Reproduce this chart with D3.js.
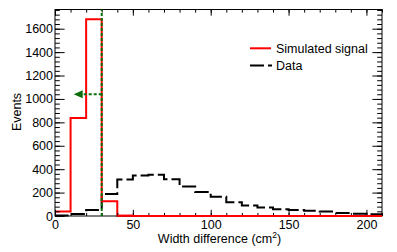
<!DOCTYPE html>
<html>
<head>
<meta charset="utf-8">
<script src="https://cdn.jsdelivr.net/npm/d3@7"></script>
<style>
  html, body { margin: 0; padding: 0; background: #fff; }
  svg { display: block; font-family: "Liberation Sans", Arial, sans-serif; }
</style>
</head>
<body>
<svg id="chart" width="397" height="252"></svg>
<script>
// ---- data ----
const binLow = [0,10,20,30,40,50,60,70,80,90,100,110,120,130,140,150,160,170,180,190,200];
const binWidth = 10;
const signalValues = [38,838,1680,125,2,0,0,0,0,0,0,0,0,0,0,0,0,0,0,0,0];
const dataValues = [4,18,52,188,312,345,352,315,252,206,165,118,90,72,58,52,44,38,26,20,16];
const xTicks = [0,50,100,150,200];
const yTicks = [0,200,400,600,800,1000,1200,1400,1600];
const legendLabels = ["Simulated signal", "Data"];
const cutValue = 30;
const arrowLevel = 1040;
const arrowTip = 12;
const xDomain = [0, 210];
const yDomain = [0, 1764];

// ---- layout ----
const svg = d3.select("#chart");
const L = 55, R = 382, T = 9.5, B = 216;
const x = d3.scaleLinear().domain(xDomain).range([L, R]);
const y = d3.scaleLinear().domain(yDomain).range([B, T]);
const fontSize = 12.5;

function histPoints(vals) {
  const pts = [[binLow[0], 0]];
  vals.forEach((v, i) => pts.push([binLow[i], v]));
  const last = binLow[binLow.length - 1] + binWidth;
  pts.push([last, vals[vals.length - 1]]);
  pts.push([last, 0]);
  return pts;
}
const line = d3.line().x(d => x(d[0])).y(d => y(d[1])).curve(d3.curveStepAfter);

// clip
svg.append("clipPath").attr("id", "clip").append("rect")
  .attr("x", L).attr("y", T - 1).attr("width", R - L).attr("height", B - T + 2);

const plot = svg.append("g").attr("clip-path", "url(#clip)");

// data histogram (black dashed)
plot.append("path").attr("d", line(histPoints(dataValues)))
  .attr("fill", "none").attr("stroke", "#000").attr("stroke-width", 2)
  .attr("stroke-dasharray", "14,4");

// signal histogram (red)
plot.append("path").attr("d", line(histPoints(signalValues)))
  .attr("fill", "none").attr("stroke", "#ff0000").attr("stroke-width", 2);

// ---- axes ----
const yMinor = d3.range(0, yDomain[1], 40);
const xMinor = d3.range(0, xDomain[1] + 0.1, 10);

function styleAxis(g) {
  g.select(".domain").remove();
  g.selectAll("line").attr("stroke", "#000").attr("stroke-width", 1);
  g.selectAll("text").attr("font-size", fontSize).attr("fill", "#000")
    .attr("font-family", "Liberation Sans, Arial, sans-serif");
}

// left
svg.append("g").attr("transform", `translate(${L},0)`)
  .call(d3.axisLeft(y).tickValues(yMinor).tickSize(-4.8).tickFormat(""))
  .call(styleAxis);
svg.append("g").attr("transform", `translate(${L},0)`)
  .call(d3.axisLeft(y).tickValues(yTicks).tickSize(-9.6).tickPadding(2).tickFormat(d3.format("d")))
  .call(styleAxis);
// right
svg.append("g").attr("transform", `translate(${R},0)`)
  .call(d3.axisRight(y).tickValues(yMinor).tickSize(-4.8).tickFormat(""))
  .call(styleAxis);
svg.append("g").attr("transform", `translate(${R},0)`)
  .call(d3.axisRight(y).tickValues(yTicks).tickSize(-9.6).tickFormat(""))
  .call(styleAxis);
// bottom
svg.append("g").attr("transform", `translate(0,${B})`)
  .call(d3.axisBottom(x).tickValues(xMinor).tickSize(-3.1).tickFormat(""))
  .call(styleAxis);
svg.append("g").attr("transform", `translate(0,${B})`)
  .call(d3.axisBottom(x).tickValues(xTicks).tickSize(-6.2).tickPadding(4).tickFormat(d3.format("d")))
  .call(styleAxis);
// top
svg.append("g").attr("transform", `translate(0,${T})`)
  .call(d3.axisTop(x).tickValues(xMinor).tickSize(-3.1).tickFormat(""))
  .call(styleAxis);
svg.append("g").attr("transform", `translate(0,${T})`)
  .call(d3.axisTop(x).tickValues(xTicks).tickSize(-6.2).tickFormat(""))
  .call(styleAxis);

// frame
svg.append("rect").attr("x", L).attr("y", T).attr("width", R - L).attr("height", B - T)
  .attr("fill", "none").attr("stroke", "#000").attr("stroke-width", 1);

// red zero line drawn over the frame bottom (signal bins at 0)
svg.append("path").attr("d", line(histPoints(signalValues).slice(5)))
  .attr("fill", "none").attr("stroke", "#ff0000").attr("stroke-width", 2);

// ---- cut line + arrow (green) ----
const green = "#0a6e0a";
svg.append("line")
  .attr("x1", x(cutValue)).attr("x2", x(cutValue))
  .attr("y1", y(0)).attr("y2", y(yDomain[1]))
  .attr("stroke", green).attr("stroke-width", 2).attr("stroke-dasharray", "3,2");
const headLen = 9, headHalf = 4;
svg.append("line")
  .attr("x1", x(cutValue)).attr("x2", x(arrowTip) + headLen)
  .attr("y1", y(arrowLevel)).attr("y2", y(arrowLevel))
  .attr("stroke", green).attr("stroke-width", 2).attr("stroke-dasharray", "3,2");
svg.append("path")
  .attr("d", `M${x(arrowTip)},${y(arrowLevel)} L${x(arrowTip) + headLen},${y(arrowLevel) - headHalf} L${x(arrowTip) + headLen},${y(arrowLevel) + headHalf} Z`)
  .attr("fill", green);

// ---- titles ----
const xt = svg.append("text").attr("x", 219.5).attr("y", 243)
  .attr("text-anchor", "middle").attr("font-size", fontSize).attr("fill", "#000");
xt.append("tspan").text("Width difference (cm");
xt.append("tspan").attr("font-size", 8.5).attr("dy", -5).text("2");
xt.append("tspan").attr("dy", 5).text(")");

svg.append("text").attr("transform", "translate(20.5,112) rotate(-90)")
  .attr("text-anchor", "middle").attr("font-size", fontSize).attr("fill", "#000")
  .text("Events");

// ---- legend ----
const leg = svg.append("g");
leg.append("line").attr("x1", 250).attr("x2", 271).attr("y1", 48.3).attr("y2", 48.3)
  .attr("stroke", "#ff0000").attr("stroke-width", 2);
leg.append("text").attr("x", 276).attr("y", 48.3).attr("dy", "0.35em")
  .attr("font-size", fontSize).attr("fill", "#000").text(legendLabels[0]);
leg.append("line").attr("x1", 250).attr("x2", 272).attr("y1", 65.5).attr("y2", 65.5)
  .attr("stroke", "#000").attr("stroke-width", 2).attr("stroke-dasharray", "14,4");
leg.append("text").attr("x", 276).attr("y", 65.5).attr("dy", "0.35em")
  .attr("font-size", fontSize).attr("fill", "#000").text(legendLabels[1]);
</script>
</body>
</html>
